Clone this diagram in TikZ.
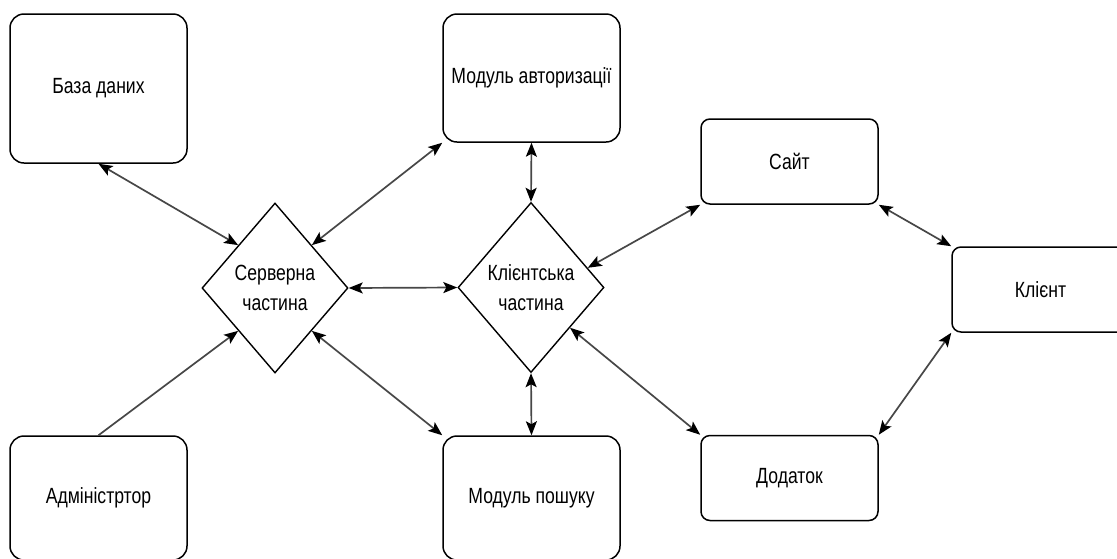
\documentclass[tikz,border=0pt]{standalone}
\usepackage{fontspec}
\setmainfont{Liberation Sans}[FakeStretch=0.8]
\usetikzlibrary{shapes.geometric,arrows.meta,calc}
\tikzset{
  box/.style={draw=black, line width=1.5pt, rounded corners=14pt, minimum width=177pt,
    inner sep=0pt, font=\fontsize{22}{30}\selectfont, align=center},
  smallbox/.style={box, rounded corners=9pt, minimum height=85pt},
  decision/.style={draw=black, line width=1.4pt, diamond, minimum width=146pt, minimum height=170pt,
    inner sep=0pt, font=\fontsize{22}{30}\selectfont, align=center},
  conn/.style={draw=black!72, line width=1.7pt, {Stealth[length=14pt,width=11pt,inset=3pt,color=black]}-{Stealth[length=14pt,width=11pt,inset=3pt,color=black]}},
  oneway/.style={draw=black!72, line width=1.7pt, -{Stealth[length=14pt,width=11pt,inset=3pt,color=black]}}
}
\begin{document}
\begin{tikzpicture}[x=1pt,y=-1pt]
\useasboundingbox (0,0) rectangle (1117,558);
\clip (0,0) rectangle (1117,558);
\fill[white] (0,0) rectangle (1117,558);

\node[box, minimum height=149pt] (db) at (98.5,88.5) {База даних};
\node[box, minimum height=128pt] (auth) at (531.5,78) {Модуль авторизації};
\node[smallbox] (site) at (789.5,161.5) {Сайт};
\node[smallbox] (client) at (1040.5,289.5) {Клієнт};
\node[smallbox] (app) at (789.5,478) {Додаток};
\node[box, minimum height=124pt] (admin) at (98.5,498) {Адміністртор};
\node[box, minimum height=124pt] (search) at (531.5,498) {Модуль пошуку};
\node[decision] (srv) at (275,288) {Серверна\\частина};
\node[decision] (cli) at (531,287.5) {Клієнтська\\частина};

\coordinate (srvNW) at ($(srv.north)!0.5!(srv.west)$);
\coordinate (srvNE) at ($(srv.north)!0.5!(srv.east)$);
\coordinate (srvSW) at ($(srv.south)!0.5!(srv.west)$);
\coordinate (srvSE) at ($(srv.south)!0.5!(srv.east)$);
\coordinate (cliNE) at ($(cli.north)!0.77!(cli.east)$);
\coordinate (cliSE) at ($(cli.east)!0.47!(cli.south)$);

\draw[conn] (db.south) -- (srvNW);
\draw[conn] (srvNE) -- (auth.south west);
\draw[conn] (srv.east) -- (cli.west);
\draw[oneway] (admin.north) -- (srvSW);
\draw[conn] (srvSE) -- (search.north west);
\draw[conn] (auth.south) -- (cli.north);
\draw[conn] (cli.south) -- (search.north);
\draw[conn] (cliNE) -- (site.south west);
\draw[conn] (cliSE) -- (app.north west);
\draw[conn] (site.south east) -- (client.north west);
\draw[conn] (app.north east) -- (client.south west);
\end{tikzpicture}
\end{document}
